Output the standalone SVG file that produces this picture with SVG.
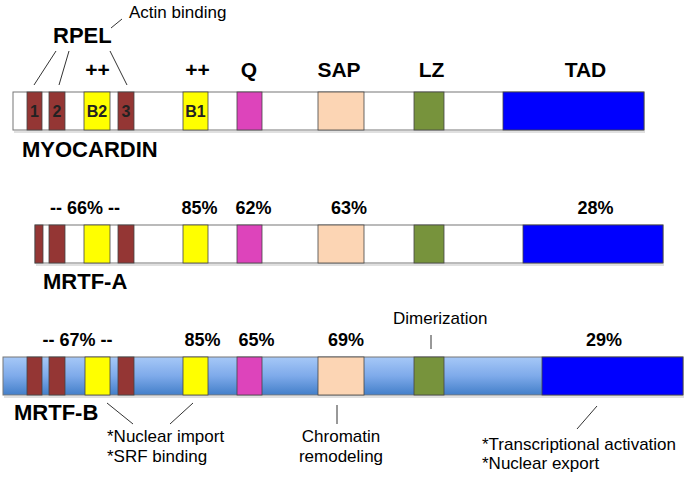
<svg xmlns="http://www.w3.org/2000/svg" width="687" height="478" viewBox="0 0 687 478">
<defs>
<linearGradient id="bgB" x1="0" y1="0" x2="0" y2="1">
<stop offset="0" stop-color="#a6c8f7"/>
<stop offset="0.5" stop-color="#7eaaea"/>
<stop offset="1" stop-color="#437fc9"/>
</linearGradient>
<style>
text{font-family:"Liberation Sans",Arial,sans-serif;fill:#000}
.name{font-size:22px;font-weight:bold}
.dom{font-size:21px;font-weight:bold;text-anchor:middle}
.pct{font-size:18px;font-weight:bold;text-anchor:middle}
.ann{font-size:17px}
.in{font-size:16px;font-weight:bold;text-anchor:middle;fill:#222}
.bar{stroke:#777;stroke-width:1}
.d{stroke:#444;stroke-width:0.8}
.rp{fill:#943634}
.yl{fill:#ffff00}
.q{fill:#dd44bb}
.sap{fill:#fcd5b4}
.lz{fill:#77933c}
.tad{fill:#0000ff}
.ln{stroke:#333;stroke-width:1;fill:none}
.sh{fill:#000;opacity:0.12}
</style>
</defs>

<g id="connectors">
<line class="ln" x1="111" y1="28" x2="122" y2="19"/>
<line class="ln" x1="56" y1="51" x2="34" y2="85"/>
<line class="ln" x1="69" y1="51" x2="59" y2="85"/>
<line class="ln" x1="110" y1="51" x2="127" y2="85"/>
<line class="ln" x1="431" y1="335" x2="431" y2="349"/>
<line class="ln" x1="107" y1="403" x2="133" y2="424"/>
<line class="ln" x1="193" y1="403" x2="170" y2="424"/>
<line class="ln" x1="337" y1="405" x2="337" y2="424"/>
<line class="ln" x1="597" y1="406" x2="577" y2="429"/>
</g>

<g id="labels-top">
<text class="ann" x="129" y="18">Actin binding</text>
<text class="name" x="53" y="43">RPEL</text>
<text class="dom" x="97.5" y="77">++</text>
<text class="dom" x="197.5" y="77">++</text>
<text class="dom" x="249" y="77">Q</text>
<text class="dom" x="339" y="77">SAP</text>
<text class="dom" x="431.5" y="77">LZ</text>
<text class="dom" x="585.5" y="77">TAD</text>
</g>

<g id="myocardin">
<rect class="sh" x="14" y="131" width="631" height="2"/>
<rect class="bar" x="13" y="92" width="631" height="38" fill="#fff"/>
<rect class="d rp" x="27" y="92" width="15" height="38"/>
<rect class="d rp" x="49" y="92" width="16" height="38"/>
<rect class="d yl" x="84" y="92" width="26" height="38"/>
<rect class="d rp" x="118" y="92" width="16" height="38"/>
<rect class="d yl" x="183" y="92" width="25" height="38"/>
<rect class="d q" x="237" y="92" width="25" height="38"/>
<rect class="d sap" x="318" y="92" width="46" height="38"/>
<rect class="d lz" x="414" y="92" width="30" height="38"/>
<rect class="d tad" x="503" y="92" width="141" height="38"/>
<text class="in" x="34.5" y="117">1</text>
<text class="in" x="57" y="117">2</text>
<text class="in" x="97" y="117">B2</text>
<text class="in" x="126" y="117">3</text>
<text class="in" x="195.5" y="117">B1</text>
<text class="name" x="22" y="157">MYOCARDIN</text>
</g>

<g id="mrtf-a">
<text class="pct" x="85" y="214">-- 66% --</text>
<text class="pct" x="199.5" y="214">85%</text>
<text class="pct" x="253.5" y="214">62%</text>
<text class="pct" x="349" y="214">63%</text>
<text class="pct" x="595.5" y="214">28%</text>
<rect class="sh" x="36" y="264" width="628" height="2"/>
<rect class="bar" x="35" y="225" width="628" height="38" fill="#fff"/>
<rect class="d rp" x="35" y="225" width="8" height="38"/>
<rect class="d rp" x="49" y="225" width="16" height="38"/>
<rect class="d yl" x="84" y="225" width="26" height="38"/>
<rect class="d rp" x="118" y="225" width="16" height="38"/>
<rect class="d yl" x="183" y="225" width="25" height="38"/>
<rect class="d q" x="237" y="225" width="25" height="38"/>
<rect class="d sap" x="318" y="225" width="46" height="38"/>
<rect class="d lz" x="414" y="225" width="30" height="38"/>
<rect class="d tad" x="523" y="225" width="140" height="38"/>
<text class="name" x="43" y="289">MRTF-A</text>
</g>

<g id="mrtf-b">
<text class="ann" x="393" y="324">Dimerization</text>
<text class="pct" x="77.5" y="346">-- 67% --</text>
<text class="pct" x="202.5" y="346">85%</text>
<text class="pct" x="256.5" y="346">65%</text>
<text class="pct" x="346" y="346">69%</text>
<text class="pct" x="604" y="346">29%</text>
<rect class="sh" x="4" y="396" width="680" height="2"/>
<rect class="bar" x="3" y="357" width="680" height="38" fill="url(#bgB)"/>
<rect class="d rp" x="27" y="357" width="15" height="38"/>
<rect class="d rp" x="49" y="357" width="16" height="38"/>
<rect class="d yl" x="85" y="357" width="25" height="38"/>
<rect class="d rp" x="118" y="357" width="16" height="38"/>
<rect class="d yl" x="183" y="357" width="25" height="38"/>
<rect class="d q" x="237" y="357" width="25" height="38"/>
<rect class="d sap" x="318" y="357" width="46" height="38"/>
<rect class="d lz" x="414" y="357" width="30" height="38"/>
<rect class="d tad" x="542" y="357" width="141" height="38"/>
<text class="name" x="14" y="420">MRTF-B</text>
</g>

<g id="annotations">
<text class="ann" x="107" y="442">*Nuclear import</text>
<text class="ann" x="107" y="462">*SRF binding</text>
<text class="ann" x="341" y="442" text-anchor="middle">Chromatin</text>
<text class="ann" x="341" y="462" text-anchor="middle">remodeling</text>
<text class="ann" x="482" y="450">*Transcriptional activation</text>
<text class="ann" x="482" y="469">*Nuclear export</text>
</g>
</svg>
